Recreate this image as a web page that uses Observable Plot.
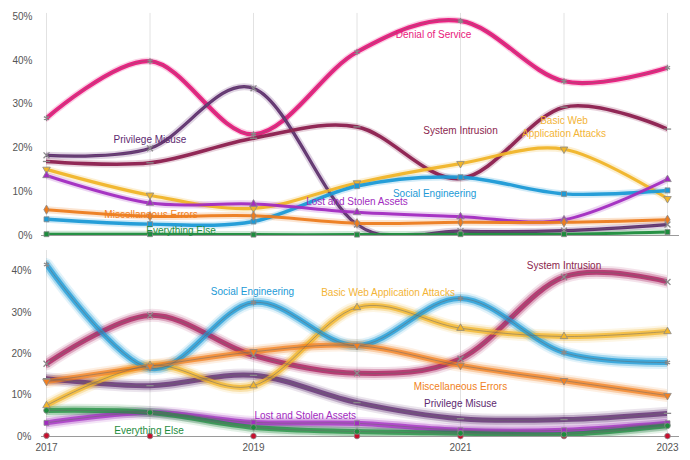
<!DOCTYPE html>
<html><head><meta charset="utf-8">
<script src="https://cdn.jsdelivr.net/npm/d3@7"></script>
<script src="https://cdn.jsdelivr.net/npm/@observablehq/plot@0.6"></script>
<style>
body{margin:0;background:#fff;}
#chart{width:690px;height:460px;overflow:hidden;}
#chart svg{display:block;}
</style></head><body><div id="chart"></div>
<script>
// ---------- data ----------
const years = [2017, 2018, 2019, 2020, 2021, 2022, 2023];
const patterns = ["Denial of Service", "Privilege Misuse", "System Intrusion",
  "Basic Web Application Attacks", "Social Engineering", "Lost and Stolen Assets",
  "Miscellaneous Errors", "Everything Else"];

// top panel (%)
const topDoS    = [26.8, 39.8, 23.1, 41.9, 49.0, 35.2, 38.3];
const topPriv   = [18.3, 19.9, 33.6, 2.5, 1.0, 1.1, 2.5];
const topSys    = [16.9, 16.6, 22.2, 24.8, 13.0, 29.3, 24.3];
const topWeb    = [15.1, 9.2, 6.2, 12.0, 16.4, 19.7, 8.4];
const topSoc    = [3.7, 2.6, 3.2, 11.3, 13.3, 9.5, 10.3];
const topLost   = [13.7, 7.4, 7.2, 5.3, 4.3, 3.6, 12.8];
const topMisc   = [5.9, 4.4, 4.5, 2.8, 3.0, 3.0, 3.6];
const topElse   = [0.3, 0.3, 0.2, 0.2, 0.3, 0.3, 0.8];

// bottom panel (%)
const botDoS    = [0.2, 0.1, 0.1, 0.1, 0.1, 0.1, 0.1];
const botPriv   = [14.0, 12.3, 14.8, 8.2, 4.3, 4.1, 5.6];
const botSys    = [17.6, 29.3, 19.6, 15.3, 18.8, 38.6, 37.4];
const botWeb    = [7.5, 17.2, 12.3, 31.2, 26.2, 24.2, 25.4];
const botSoc    = [41.6, 16.5, 32.4, 22.0, 33.4, 20.3, 17.9];
const botLost   = [3.3, 5.8, 3.4, 3.2, 1.5, 1.5, 3.2];
const botMisc   = [13.3, 17.0, 20.5, 22.0, 17.2, 13.5, 9.9];
const botElse   = [6.3, 5.8, 2.2, 1.2, 0.8, 0.5, 2.6];

const xTicks = [2017, 2019, 2021, 2023];
const topYTicks = [0, 10, 20, 30, 40, 50];
const botYTicks = [0, 10, 20, 30, 40];

// label annotations (name, year, value)
const topLabelText = ["Denial of Service", "Privilege Misuse", "System Intrusion",
  "Basic Web\nApplication Attacks", "Social Engineering", "Lost and Stolen Assets",
  "Miscellaneous Errors", "Everything Else"];
const topLabelYear  = [2020.74, 2018.0, 2021.0, 2022.0, 2020.75, 2020.0, 2018.01, 2018.3];
const topLabelValue = [46.1, 22.1, 24.1, 24.9, 9.8, 7.9, 5.0, 1.3];

const botLabelText = ["Social Engineering", "Basic Web Application Attacks", "System Intrusion",
  "Miscellaneous Errors", "Privilege Misuse", "Lost and Stolen Assets", "Everything Else"];
const botLabelPattern = ["Social Engineering", "Basic Web Application Attacks", "System Intrusion",
  "Miscellaneous Errors", "Privilege Misuse", "Lost and Stolen Assets", "Everything Else"];
const botLabelYear  = [2018.99, 2020.3, 2022.0, 2021.0, 2021.0, 2019.5, 2017.99];
const botLabelValue = [35.1, 34.7, 41.2, 12.1, 7.9, 5.1, 1.45];

// ---------- styling ----------
const topColors = ["#e8197c", "#5e2a6f", "#8c1f4e", "#f0b429", "#1c9ad6", "#a22cc0", "#ec7c1f", "#1d8c3d"];
const botColors = ["#c8102e", "#5e2a6f", "#a8195b", "#f2b42a", "#1c9ad6", "#a22cc0", "#f28020", "#1d8c3d"];
const textColors = ["#e8197c", "#5e2a6f", "#8c1f4e", "#f3b436", "#1c9ad6", "#a22cc0", "#f07f1c", "#1d8c3d"];
const topWidths = [4.2, 3.2, 3.6, 3.2, 3.4, 3, 3, 3];

const dash = {draw(ctx, size) { const r = Math.sqrt(size / Math.PI) * 1.3; ctx.moveTo(-r, 0); ctx.lineTo(r, 0); }};

const topSymbols = ["asterisk", "times", dash, "triangle", "square", "triangle", "diamond", "square"];
const topRotate  = [0, 0, 0, 180, 0, 0, 0, 0];
const botSymbols = ["circle", dash, "times", "triangle", "asterisk", "square", "triangle", "circle"];
const botRotate  = [0, 0, 0, 0, 0, 0, 180, 0];

function rowsFrom(arrays) {
  const rows = [];
  arrays.forEach((vals, i) => vals.forEach((v, j) => rows.push({pattern: patterns[i], idx: i, year: years[j], value: v})));
  return rows;
}
const topRows = rowsFrom([topDoS, topPriv, topSys, topWeb, topSoc, topLost, topMisc, topElse]);
const botRows = rowsFrom([botDoS, botPriv, botSys, botWeb, botSoc, botLost, botMisc, botElse]);
const botLineRows = botRows.filter(d => d.idx !== 0);

const curve = "cardinal";
const tension = 0;
const font = "'Liberation Sans', Arial, Helvetica, sans-serif";

function dotMarks(rows, symbols, rotates, colors) {
  const strokeSyms = new Set(["asterisk", "times", "plus"]);
  return patterns.map((p, i) => {
    const data = rows.filter(d => d.idx === i);
    const s = symbols[i];
    const isStroke = s === dash || strokeSyms.has(s);
    return Plot.dot(data, {
      x: "year", y: "value", symbol: () => s, r: 2.8, rotate: rotates[i],
      fill: isStroke ? "none" : colors[i],
      stroke: "#8a8a8a", strokeWidth: isStroke ? 1.3 : 0.8
    });
  });
}

const topPlot = Plot.plot({
  width: 690, height: 240,
  marginLeft: 46, marginRight: 23, marginTop: 16, marginBottom: 5,
  style: {fontFamily: font, fontSize: "10px", color: "#555", background: "white"},
  x: {domain: [2017, 2023], axis: null},
  y: {domain: [0, 50], ticks: topYTicks, tickFormat: d => d + "%", tickSize: 0, tickPadding: 14, label: null},
  color: {domain: patterns, range: topColors},
  marks: [
    Plot.ruleX(years, {stroke: "#e2e2e2", strokeWidth: 1, y1: 0, y2: 50.7}),
    Plot.ruleY([0], {stroke: "#9a9a9a", strokeWidth: 1, insetLeft: -5, insetRight: -12}),
    Plot.line(topRows, {x: "year", y: "value", z: "pattern", stroke: "pattern", strokeWidth: 7, strokeOpacity: 0.2, curve, tension, clip: true}),
    ...patterns.map((p, i) => Plot.line(topRows.filter(d => d.idx === i), {x: "year", y: "value", stroke: topColors[i], strokeWidth: topWidths[i], strokeOpacity: 0.95, curve, tension, clip: true})),
    Plot.line(topRows.filter(d => d.idx < 2), {x: "year", y: "value", z: "pattern", stroke: "#6a6a6a", strokeWidth: 0.8, strokeOpacity: 0.55, curve, tension, clip: true}),
    ...dotMarks(topRows, topSymbols, topRotate, topColors),
    Plot.text(topLabelText, {
      x: (d, i) => topLabelYear[i], y: (d, i) => topLabelValue[i], text: d => d,
      fill: (d, i) => textColors[i], fontSize: 10, lineHeight: 1.27, letterSpacing: "-0.4px"
    })
  ]
});

const botPlot = Plot.plot({
  width: 690, height: 220,
  marginLeft: 46, marginRight: 23, marginTop: 10, marginBottom: 24,
  style: {fontFamily: font, fontSize: "10px", color: "#555", background: "white"},
  x: {domain: [2017, 2023], ticks: xTicks, tickFormat: d => String(d), tickSize: 0, tickPadding: 7, label: null},
  y: {domain: [0, 45], ticks: botYTicks, tickFormat: d => d + "%", tickSize: 0, tickPadding: 15, label: null},
  color: {domain: patterns, range: botColors},
  marks: [
    Plot.ruleX(years, {stroke: "#e2e2e2", strokeWidth: 1, y1: 0, y2: 45}),
    Plot.ruleY([0], {stroke: "#9a9a9a", strokeWidth: 1, insetLeft: -5, insetRight: -12}),
    Plot.line(botLineRows, {x: "year", y: "value", z: "pattern", stroke: "pattern", strokeWidth: 13, strokeOpacity: 0.12, curve, tension, clip: true}),
    Plot.line(botLineRows, {x: "year", y: "value", z: "pattern", stroke: "pattern", strokeWidth: 9, strokeOpacity: 0.3, curve, tension, clip: true}),
    Plot.line(botLineRows, {x: "year", y: "value", z: "pattern", stroke: "pattern", strokeWidth: 5, strokeOpacity: 0.75, curve, tension, clip: true}),
    Plot.line(botLineRows, {x: "year", y: "value", z: "pattern", stroke: "#666", strokeWidth: 0.8, strokeOpacity: 0.6, curve, tension, clip: true}),
    ...dotMarks(botRows, botSymbols, botRotate, botColors),
    Plot.text(botLabelText, {
      x: (d, i) => botLabelYear[i], y: (d, i) => botLabelValue[i], text: d => d,
      fill: (d, i) => textColors[patterns.indexOf(botLabelPattern[i])], fontSize: 10, letterSpacing: "-0.4px"
    })
  ]
});

const chart = document.getElementById("chart");
chart.appendChild(topPlot);
chart.appendChild(botPlot);
</script>
</body></html>
